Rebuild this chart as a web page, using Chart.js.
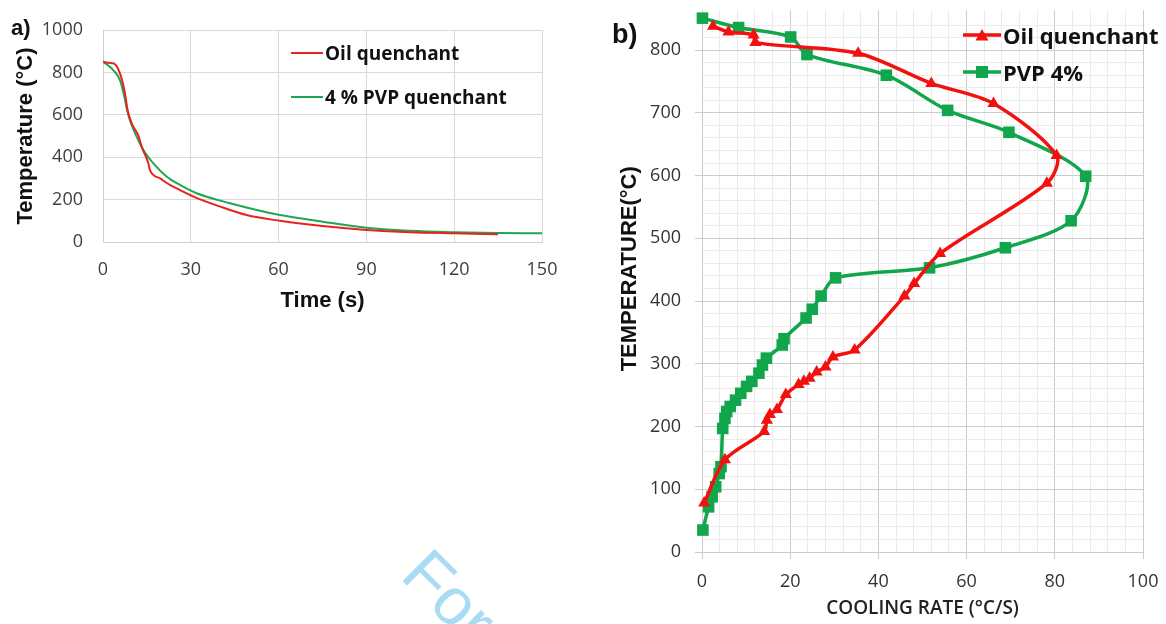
<!DOCTYPE html>
<html>
<head>
<meta charset="utf-8">
<script src="https://cdn.jsdelivr.net/npm/chart.js@4.4.1/dist/chart.umd.min.js"></script>
<style>
  html, body { margin: 0; padding: 0; background: #fff; }
  body { width: 1166px; height: 624px; overflow: hidden; position: relative; font-family: "Open Sans", sans-serif; }
  .wrap { position: absolute; }
  #wrapA { left: 0; top: 0; width: 570px; height: 320px; }
  #wrapB { left: 600px; top: 0; width: 566px; height: 624px; }
  .panel { position: absolute; font-family: "Liberation Sans", Arial, sans-serif; font-weight: bold; color: #111; }
  .leg { position: absolute; display: flex; align-items: center; font-weight: bold; color: #111; white-space: nowrap; }
  .leg svg { display: block; margin-right: 2px; }
  .wm { position: absolute; left: 442px; top: 534px; font-family: "Liberation Sans", Arial, sans-serif; font-size: 66px;
        color: #a9dcf4; transform: rotate(45deg); transform-origin: 0 0; white-space: nowrap; }
</style>
</head>
<body>
<div class="wm">For Peer Review</div>

<div class="wrap" id="wrapA"><canvas id="chartA" width="570" height="320"></canvas></div>
<div class="wrap" id="wrapB"><canvas id="chartB" width="566" height="624"></canvas></div>

<div class="panel" style="left:11px;top:15px;font-size:22px;">a)</div>
<div class="panel" style="left:612px;top:19px;font-size:27px;">b)</div>

<!-- legend a -->
<div class="leg" style="left:291px;top:41px;font-size:19px;line-height:24px;">
  <svg width="32" height="4"><line x1="0" y1="2" x2="32" y2="2" stroke="#e8231d" stroke-width="2"/></svg>Oil quenchant
</div>
<div class="leg" style="left:291px;top:85px;font-size:19px;line-height:24px;">
  <svg width="32" height="4"><line x1="0" y1="2" x2="32" y2="2" stroke="#22a552" stroke-width="2"/></svg>4 % PVP quenchant
</div>

<!-- legend b -->
<div class="leg" style="left:963px;top:20px;font-size:22px;line-height:30px;">
  <svg width="38" height="14"><line x1="0" y1="7" x2="38" y2="7" stroke="#f2110f" stroke-width="3.5"/><polygon points="19,1 25.5,12.5 12.5,12.5" fill="#f2110f"/></svg>Oil quenchant
</div>
<div class="leg" style="left:963px;top:57px;font-size:22px;line-height:30px;">
  <svg width="38" height="14"><line x1="0" y1="7" x2="38" y2="7" stroke="#12a64c" stroke-width="3.5"/><rect x="13" y="1" width="12" height="12" fill="#12a64c"/></svg>PVP 4%
</div>

<script>
// panel a: temperature vs time
const oilTime = [0, 2, 3.5, 5.6, 7.3, 8.4, 9.8, 11.5, 12, 13.2, 15.5, 16, 19.5, 23, 26.3, 30.9, 40, 49, 60.5, 75, 90, 105, 120, 135];
const oilTemp = [850, 845, 843, 803, 717, 623, 560, 518, 505, 450, 371, 340, 300, 268, 245, 214, 167, 127, 100, 75, 57, 46, 41, 37];
const pvpTime = [0, 2, 3.5, 5.8, 7.3, 8.1, 9.2, 11.5, 13.8, 17.2, 21.8, 26.3, 32, 43.4, 60.5, 75, 90, 105, 120, 135, 150];
const pvpTemp = [850, 830, 811, 764, 685, 630, 575, 497, 434, 371, 308, 269, 230, 183, 127, 96, 67, 53, 46, 42, 41];

// panel b: temperature vs cooling rate
const oilRate = [2.5, 6.0, 11.7, 12.1, 35.4, 52, 66.1, 80.4, 78.2, 54, 48.1, 45.9, 34.6, 29.7, 28, 26, 24.4, 23.1, 21.9, 19, 17, 15.4, 14.7, 14.1, 5.2, 0.5];
const oilRateTemp = [838, 829, 824, 812, 795, 747, 715, 632, 588, 476, 428, 408, 322, 311, 295, 287, 277, 272, 267, 251, 227, 219, 210, 192, 147, 78];
const pvpRate = [0.1, 8.3, 20.1, 23.8, 41.8, 55.7, 69.6, 87, 83.7, 68.8, 51.6, 30.3, 27, 25, 23.6, 18.6, 18.2, 14.6, 13.7, 12.9, 11.3, 10.1, 8.8, 7.6, 6.4, 5.6, 5.2, 4.7, 4.3, 3.9, 3.1, 2.3, 1.5, 0.2];
const pvpRateTemp = [851, 836, 821, 793, 760, 704, 669, 599, 528, 485, 453, 437, 408, 387, 373, 340, 330, 309, 298, 285, 272, 264, 253, 242, 232, 224, 213, 197, 136, 125, 104, 88, 72, 35];

function toPoints(xs, ys) {
  return xs.map((x, i) => ({ x: x, y: ys[i] }));
}

// no extra scale padding, layout padding alone places the plot area
function fixSize(w, h) {
  return function (s) {
    if (w !== null) s.width = w;
    if (h !== null) s.height = h;
    s.paddingTop = 0; s.paddingBottom = 0; s.paddingLeft = 0; s.paddingRight = 0;
  };
}

const tickFont = { family: 'Open Sans', size: 18 };
const plain = v => String(v);

new Chart(document.getElementById('chartA'), {
  type: 'line',
  data: {
    datasets: [
      {
        label: 'Oil quenchant',
        data: toPoints(oilTime, oilTemp),
        borderColor: '#e8231d',
        borderWidth: 2,
        pointRadius: 0,
        cubicInterpolationMode: 'monotone'
      },
      {
        label: '4 % PVP quenchant',
        data: toPoints(pvpTime, pvpTemp),
        borderColor: '#22a552',
        borderWidth: 2,
        pointRadius: 0,
        cubicInterpolationMode: 'monotone'
      }
    ]
  },
  options: {
    responsive: false,
    animation: false,
    layout: { padding: { left: 0, top: 30, right: 28, bottom: 6 } },
    plugins: { legend: { display: false }, tooltip: { enabled: false } },
    scales: {
      x: {
        type: 'linear',
        min: 0, max: 150,
        ticks: { stepSize: 30, padding: 17, color: '#404040', font: tickFont, maxRotation: 0, callback: plain },
        grid: { color: '#d9d9d9', drawTicks: false },
        border: { color: '#d0d0d0' },
        title: { display: true, text: 'Time (s)', color: '#111', padding: { top: 0, bottom: 0 },
                 font: { family: 'Liberation Sans', size: 22, weight: 'bold' } },
        afterFit: fixSize(null, 72)
      },
      y: {
        min: 0, max: 1000,
        ticks: { stepSize: 200, padding: 20, color: '#404040', font: tickFont, callback: plain },
        grid: { color: '#d9d9d9', drawTicks: false },
        border: { color: '#d0d0d0' },
        title: { display: true, text: 'Temperature (°C)', color: '#111', padding: { top: 13, bottom: 0 },
                 font: { family: 'Liberation Sans', size: 22, weight: 'bold' } },
        afterFit: fixSize(103, null)
      }
    }
  }
});

const majorGrid = '#cdcdcd';
const minorGrid = '#ebebeb';

new Chart(document.getElementById('chartB'), {
  type: 'line',
  data: {
    datasets: [
      {
        label: 'Oil quenchant',
        data: toPoints(oilRate, oilRateTemp),
        borderColor: '#f2110f',
        backgroundColor: '#f2110f',
        borderWidth: 3.5,
        tension: 0.3,
        pointStyle: 'triangle',
        pointRadius: 7,
        pointBorderWidth: 0,
        clip: false
      },
      {
        label: 'PVP 4%',
        data: toPoints(pvpRate, pvpRateTemp),
        borderColor: '#12a64c',
        backgroundColor: '#12a64c',
        borderWidth: 3.5,
        tension: 0.3,
        pointStyle: 'rect',
        pointRadius: 8.2,
        pointBorderWidth: 0,
        clip: false
      }
    ]
  },
  options: {
    responsive: false,
    animation: false,
    layout: { padding: { left: 0, top: 10, right: 23, bottom: 0 } },
    plugins: { legend: { display: false }, tooltip: { enabled: false } },
    scales: {
      x: {
        type: 'linear',
        min: 0, max: 100,
        ticks: {
          stepSize: 4, autoSkip: false, maxRotation: 0, minRotation: 0, padding: 12,
          color: '#333', font: { family: 'Open Sans', size: 18 },
          callback: v => (v % 20 === 0 ? String(v) : '')
        },
        grid: {
          color: c => (c.tick && c.tick.value % 20 === 0 ? majorGrid : minorGrid),
          tickColor: c => (c.tick && c.tick.value % 20 === 0 ? majorGrid : 'rgba(0,0,0,0)'),
          tickLength: 7
        },
        border: { color: majorGrid },
        title: { display: true, text: 'COOLING RATE (°C/S)', color: '#222', padding: { top: 0, bottom: 4 },
                 font: { family: 'Open Sans', size: 19, weight: 600 } },
        afterFit: fixSize(null, 72)
      },
      y: {
        min: 0, max: 864,
        ticks: {
          stepSize: 20, autoSkip: false, padding: 14,
          color: '#333', font: { family: 'Open Sans', size: 18 },
          callback: v => (v % 100 === 0 ? String(v) : '')
        },
        grid: {
          color: c => {
            if (!c.tick || c.tick.value % 20 !== 0) return 'rgba(0,0,0,0)';
            return c.tick.value % 100 === 0 ? majorGrid : minorGrid;
          },
          tickColor: c => (c.tick && c.tick.value % 100 === 0 ? majorGrid : 'rgba(0,0,0,0)'),
          tickLength: 7
        },
        border: { color: majorGrid },
        // leading spaces nudge the rotated title up, as in the reference
        title: { display: true, text: '    TEMPERATURE(°C)', color: '#111', padding: { top: 17, bottom: 0 },
                 font: { family: 'Liberation Sans', size: 22, weight: 'bold' } },
        afterFit: fixSize(102, null)
      }
    }
  }
});
</script>
</body>
</html>
